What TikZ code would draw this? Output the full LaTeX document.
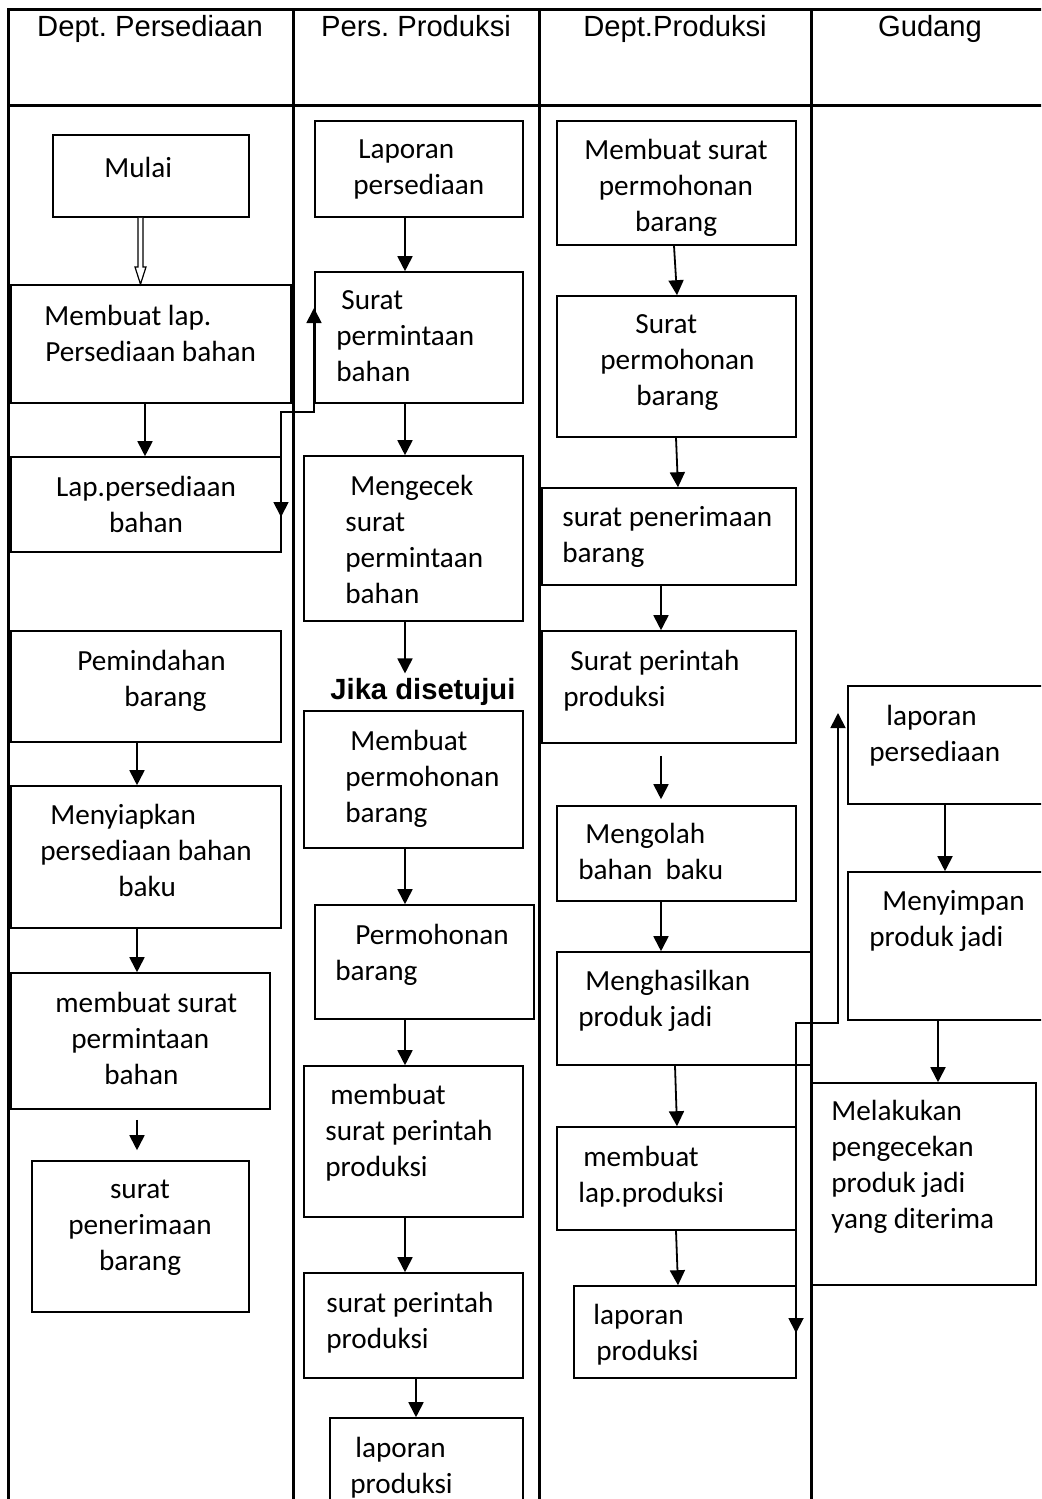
\documentclass[tikz,border=0pt]{standalone}
\usepackage{fontspec}
\setmainfont{Carlito}
\newfontfamily\arialfont{Liberation Sans}
\usetikzlibrary{arrows.meta,fit,calc}
\frenchspacing

\tikzset{
  kotak/.style={draw, line width=0.8pt, inner sep=0pt},
  teks/.style={anchor=north west, inner sep=0pt, align=left, yshift=-2.5pt,
    font=\fontsize{14.6}{18}\selectfont, execute at begin node=\strut},
  tengah/.style={teks, anchor=north, align=center},
  judul/.style={anchor=base, inner sep=0pt, font=\arialfont\fontsize{14.6}{18}\selectfont},
  panah/.style={line width=0.9pt, -{Triangle[width=7.5pt,length=7.5pt]}},
  duapanah/.style={line width=0.9pt, {Triangle[width=7.5pt,length=7.5pt]}-{Triangle[width=7.5pt,length=7.5pt]}},
  garis/.style={line width=1.5pt}
}

\begin{document}
\begin{tikzpicture}[x=0.5pt, y=-0.5pt]
\useasboundingbox (0,0) rectangle (1041,1499);
\clip (0,0) rectangle (1041,1499);

% Tabel
\draw[garis] (1060,9) -- (8.5,9) -- (8.5,1520);
\draw[garis] (8.5,105) -- (1060,105);
\foreach \x in {293,539,811}
  \draw[garis] (\x,9) -- (\x,1520);

% Judul kolom
\node[judul] (jd1) at (150,36) {Dept. Persediaan};
\node[judul] (jd2) at (416,36) {Pers. Produksi};
\node[judul] (jd3) at (675,36) {Dept.Produksi};
\node[judul] (jd4) at (930,36) {Gudang};

% Dept. Persediaan
\node[kotak, fit={(53,135) (249,217)}] (mulai) {};
\node[kotak, fit={(11,285) (291,403)}] (mkLap) {};
\node[kotak, fit={(11,457) (281,552)}] (lapBhn) {};
\node[kotak, fit={(11,631) (281,742)}] (pindah) {};
\node[kotak, fit={(11,786) (281,928)}] (siapkan) {};
\node[kotak, fit={(11,973) (270,1109)}] (mkSurat) {};
\node[kotak, fit={(32,1161) (249,1312)}] (terima) {};

\node[teks] (t11) at (104,147) {Mulai};
\node[teks] (t12) at (44,300) {Membuat lap.\\\hspace*{0.5pt}Persediaan bahan};
\node[tengah] (t13) at (146,471) {Lap.persediaan\\bahan};
\node[teks] (t14) at (77,645) {Pemindahan\\\hspace*{23.5pt}barang};
\node[teks] (t15) at (40,799) {\hspace*{5pt}Menyiapkan\\persediaan bahan\\\hspace*{39pt}baku};
\node[teks] (t16) at (55,987) {membuat surat\\\hspace*{8pt}permintaan\\\hspace*{24.5pt}bahan};
\node[tengah] (t17) at (140,1175) {surat\\penerimaan\\barang};

% Pers. Produksi
\node[kotak, fit={(315,121) (523,217)}] (lapPers) {};
\node[kotak, fit={(315,272) (523,403)}] (minta) {};
\node[kotak, fit={(304,456) (523,621)}] (cek) {};
\node[kotak, fit={(304,711) (523,848)}] (mohon) {};
\node[kotak, fit={(315,905) (534,1019)}] (permohonan) {};
\node[kotak, fit={(304,1066) (523,1217)}] (mkPerintah) {};
\node[kotak, fit={(304,1273) (523,1378)}] (perintah) {};
\node[kotak, fit={(330,1418) (523,1540)}] (lapProd) {};

\node[teks] (t21) at (353,134) {\hspace*{2.5pt}Laporan\\persediaan};
\node[teks] (t22) at (336,285) {\hspace*{2.5pt}Surat\\permintaan\\bahan};
\node[teks] (t23) at (345,470) {\hspace*{2.5pt}Mengecek\\surat\\permintaan\\bahan};
\node[anchor=base west, inner sep=0pt, font=\arialfont\bfseries\fontsize{14.6}{18}\selectfont]
  (jika) at (330,699) {Jika disetujui};
\node[teks] (t24) at (345,725) {\hspace*{2.5pt}Membuat\\permohonan\\barang};
\node[teks] (t25) at (335,919) {\hspace*{10pt}Permohonan\\barang};
\node[teks] (t26) at (325,1079) {\hspace*{2.5pt}membuat\\surat perintah\\produksi};
\node[teks] (t27) at (326,1287) {surat perintah\\produksi};
\node[teks] (t28) at (350,1432) {\hspace*{2.5pt}laporan\\produksi};

% Dept.Produksi
\node[kotak, fit={(557,121) (796,245)}] (mkMohon) {};
\node[kotak, fit={(557,296) (796,437)}] (srtMohon) {};
\node[kotak, fit={(542,488) (796,585)}] (srtTerima) {};
\node[kotak, fit={(542,631) (796,743)}] (srtPerintah) {};
\node[kotak, fit={(557,806) (796,901)}] (olah) {};
\node[kotak, fit={(557,952) (811,1065)}] (hasil) {};
\node[kotak, fit={(557,1127) (796,1230)}] (mkLapProd) {};
\node[kotak, fit={(574,1286) (796,1378)}] (lapProd3) {};

\node[tengah] (t31) at (676,134) {Membuat surat\\permohonan\\barang};
\node[teks] (t32) at (600,309) {\hspace*{17.5pt}Surat\\permohonan\\\hspace*{18pt}barang};
\node[teks] (t33) at (562,501) {surat penerimaan\\barang};
\node[teks] (t34) at (563,645) {\hspace*{3.5pt}Surat perintah\\produksi};
\node[teks] (t35) at (578,818) {\hspace*{3.5pt}Mengolah\\bahan\ \ baku};
\node[teks] (t36) at (578,965) {\hspace*{3.5pt}Menghasilkan\\produk jadi};
\node[teks] (t37) at (578,1141) {\hspace*{2.5pt}membuat\\lap.produksi};
\node[teks] (t38) at (593,1299) {laporan\\\hspace*{1.5pt}produksi};

% Gudang
\node[kotak, fit={(848,686) (1060,804)}] (lapGud) {};
\node[kotak, fit={(848,872) (1060,1020)}] (simpan) {};
\node[kotak, fit={(811,1083) (1036,1285)}] (cekProduk) {};

\node[teks] (t41) at (869,700) {\hspace*{8.5pt}laporan\\persediaan};
\node[teks] (t42) at (869,885) {\hspace*{6.5pt}Menyimpan\\produk jadi};
\node[teks] (t43) at (831,1095) {Melakukan\\pengecekan\\produk jadi\\yang diterima};

% Panah kolom 1
\draw[line width=0.6pt, fill=white] (mulai.south -| 138,0) -- (138,267) -- (135,267)
  -- (mkLap.north -| 140.5,0) -- (146,267) -- (143,267) -- (mulai.south -| 143,0);
\draw[panah] (mkLap.south -| 145,0) -- (lapBhn.north -| 145,0);
\draw[panah] (pindah.south -| 137,0) -- (siapkan.north -| 137,0);
\draw[panah] (siapkan.south -| 137,0) -- (mkSurat.north -| 137,0);
\draw[panah, shorten <=5pt, shorten >=5pt] (mkSurat.south -| 137,0) -- (terima.north -| 137,0);

% Panah kolom 2
\draw[panah] (lapPers.south -| 405,0) -- (minta.north -| 405,0);
\draw[panah] (minta.south -| 405,0) -- (cek.north -| 405,0);
\draw[panah, shorten >=2pt] (cek.south -| 405,0) -- (jika.north -| 405,0);
\draw[panah] (mohon.south -| 405,0) -- (permohonan.north -| 405,0);
\draw[panah] (permohonan.south -| 405,0) -- (mkPerintah.north -| 405,0);
\draw[panah] (mkPerintah.south -| 405,0) -- (perintah.north -| 405,0);
\draw[panah] (perintah.south -| 416,0) -- (lapProd.north -| 416,0);

% Panah kolom 3
\draw[panah] (mkMohon.south -| 674,0) -- (srtMohon.north -| 677,0);
\draw[panah] (srtMohon.south -| 676,0) -- (srtTerima.north -| 678,0);
\draw[panah] (srtTerima.south -| 661,0) -- (srtPerintah.north -| 661,0);
\draw[panah, shorten <=6pt, shorten >=3pt] (srtPerintah.south -| 661,0) -- (olah.north -| 661,0);
\draw[panah] (olah.south -| 661,0) -- (hasil.north -| 661,0);
\draw[panah] (hasil.south -| 675,0) -- (mkLapProd.north -| 677,0);
\draw[panah] (mkLapProd.south -| 676,0) -- (lapProd3.north -| 678,0);

% Panah kolom 4
\draw[panah] (lapGud.south -| 945,0) -- (simpan.north -| 945,0);
\draw[panah] (simpan.south -| 938,0) -- (cekProduk.north -| 938,0);

% Panah antar kolom
\coordinate (ujung1) at (281,517);
\coordinate (belok1) at (281,412);
\coordinate (ujung2) at (314,308);
\draw[duapanah] (ujung1) -- (belok1) -| (ujung2);

\coordinate (ujung3) at (796,1333);
\coordinate (belok2) at (796,1023);
\coordinate (ujung4) at (838,713);
\draw[duapanah] (ujung3) -- (belok2) -| (ujung4);

\end{tikzpicture}
\end{document}
